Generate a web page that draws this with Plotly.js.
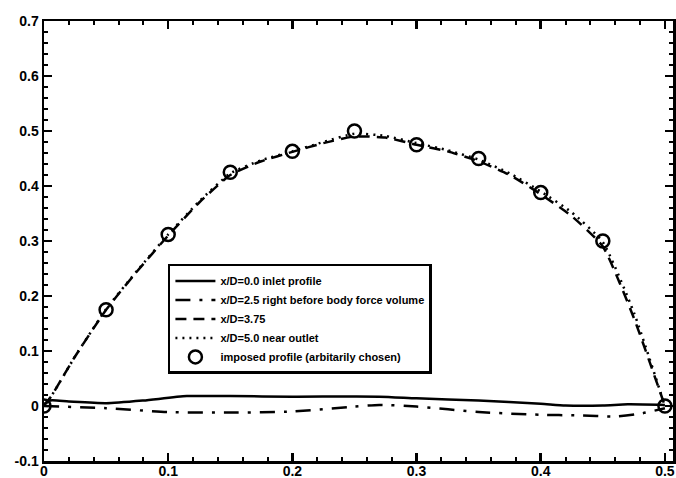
<!DOCTYPE html>
<html>
<head>
<meta charset="utf-8">
<script src="https://cdn.plot.ly/plotly-3.0.1.min.js"></script>
<style>
  html, body { margin: 0; padding: 0; background: #fff; }
  #chart { width: 676px; height: 478px; }
</style>
</head>
<body>
<div id="chart"></div>
<script>
// Velocity profiles across the channel at several streamwise stations
const xInlet = [0, 0.005, 0.02, 0.05, 0.08, 0.115, 0.15, 0.2, 0.27, 0.3, 0.35, 0.4, 0.42, 0.45, 0.47, 0.5];
const uInlet = [0.002, 0.01, 0.008, 0.005, 0.01, 0.018, 0.018, 0.017, 0.017, 0.014, 0.01, 0.004, 0.001, 0.001, 0.003, 0.002];

const xBefore = [0, 0.05, 0.1, 0.15, 0.2, 0.25, 0.27, 0.3, 0.35, 0.4, 0.43, 0.46, 0.48, 0.5];
const uBefore = [0.0, -0.004, -0.011, -0.012, -0.01, -0.001, 0.002, -0.001, -0.011, -0.016, -0.017, -0.019, -0.014, -0.004];

const xProfile = [0, 0.005, 0.025, 0.05, 0.075, 0.1, 0.125, 0.15, 0.175, 0.2, 0.225, 0.25, 0.275, 0.3, 0.325, 0.35, 0.375, 0.4, 0.425, 0.45, 0.475, 0.5];
const uMid = [0.002, 0.015, 0.09, 0.175, 0.245, 0.31, 0.37, 0.42, 0.445, 0.462, 0.478, 0.49, 0.488, 0.475, 0.463, 0.445, 0.42, 0.385, 0.345, 0.29, 0.16, 0.0];
const uOutlet = [0.002, 0.015, 0.09, 0.176, 0.246, 0.312, 0.372, 0.423, 0.447, 0.463, 0.48, 0.495, 0.491, 0.478, 0.465, 0.448, 0.423, 0.39, 0.352, 0.298, 0.17, 0.0];

const xImposed = [0, 0.05, 0.1, 0.15, 0.2, 0.25, 0.3, 0.35, 0.4, 0.45, 0.5];
const uImposed = [0, 0.175, 0.312, 0.425, 0.463, 0.5, 0.475, 0.45, 0.388, 0.3, 0];

const seriesNames = [
  'x/D=0.0 inlet profile',
  'x/D=2.5 right before body force volume',
  'x/D=3.75',
  'x/D=5.0 near outlet',
  'imposed profile (arbitarily chosen)'
];

const xTicks = [0, 0.1, 0.2, 0.3, 0.4, 0.5];
const xTickText = ['0', '0.1', '0.2', '0.3', '0.4', '0.5'];
const yTicks = [-0.1, 0, 0.1, 0.2, 0.3, 0.4, 0.5, 0.6, 0.7];
const yTickText = ['-0.1', '0', '0.1', '0.2', '0.3', '0.4', '0.5', '0.6', '0.7'];

const font = { family: 'Liberation Sans, Arial, sans-serif', size: 14, color: '#000', weight: 700 };
const black = '#000';

const traces = [
  { x: xInlet, y: uInlet, name: seriesNames[0], mode: 'lines',
    line: { color: black, width: 2.5, shape: 'spline', smoothing: 0.6 } },
  { x: xBefore, y: uBefore, name: seriesNames[1], mode: 'lines',
    line: { color: black, width: 2.5, dash: '15px,9px,3px,9px', shape: 'spline', smoothing: 0.6 } },
  { x: xProfile, y: uMid, name: seriesNames[2], mode: 'lines',
    line: { color: black, width: 2.5, dash: '11px,7px', shape: 'spline', smoothing: 0.5 } },
  { x: xProfile, y: uOutlet, name: seriesNames[3], mode: 'lines',
    line: { color: black, width: 2.5, dash: '2px,5px', shape: 'spline', smoothing: 0.5 } },
  { x: xImposed, y: uImposed, name: seriesNames[4], mode: 'markers',
    marker: { symbol: 'circle-open', size: 13, color: black, line: { color: black, width: 2.5 } } }
];

const axisCommon = {
  showgrid: false, zeroline: false,
  showline: true, linecolor: black, linewidth: 2.5, mirror: 'allticks',
  ticks: 'inside', ticklen: 8, tickwidth: 2.5, tickcolor: black,
  tickfont: font,
  minor: { ticks: 'inside', ticklen: 4, tickwidth: 2, tickcolor: black, dtick: 0.02, showgrid: false }
};

const layout = {
  width: 676, height: 478,
  margin: { l: 44, r: 3, t: 21, b: 17 },
  paper_bgcolor: '#fff', plot_bgcolor: '#fff',
  font: font,
  showlegend: true,
  legend: {
    x: 0.197, y: 0.448, xanchor: 'left', yanchor: 'top',
    bgcolor: '#fff', bordercolor: black, borderwidth: 2.5,
    font: { family: font.family, size: 11, color: '#000', weight: 700 },
    itemwidth: 40,
    tracegroupgap: 0
  },
  xaxis: Object.assign({}, axisCommon, {
    range: [0, 0.5065], tickvals: xTicks, ticktext: xTickText, tickangle: 0,
    ticklabelstandoff: -4
  }),
  yaxis: Object.assign({}, axisCommon, {
    range: [-0.1, 0.7], tickvals: yTicks, ticktext: yTickText
  })
};

Plotly.newPlot('chart', traces, layout, { displayModeBar: false, staticPlot: true });
</script>
</body>
</html>
